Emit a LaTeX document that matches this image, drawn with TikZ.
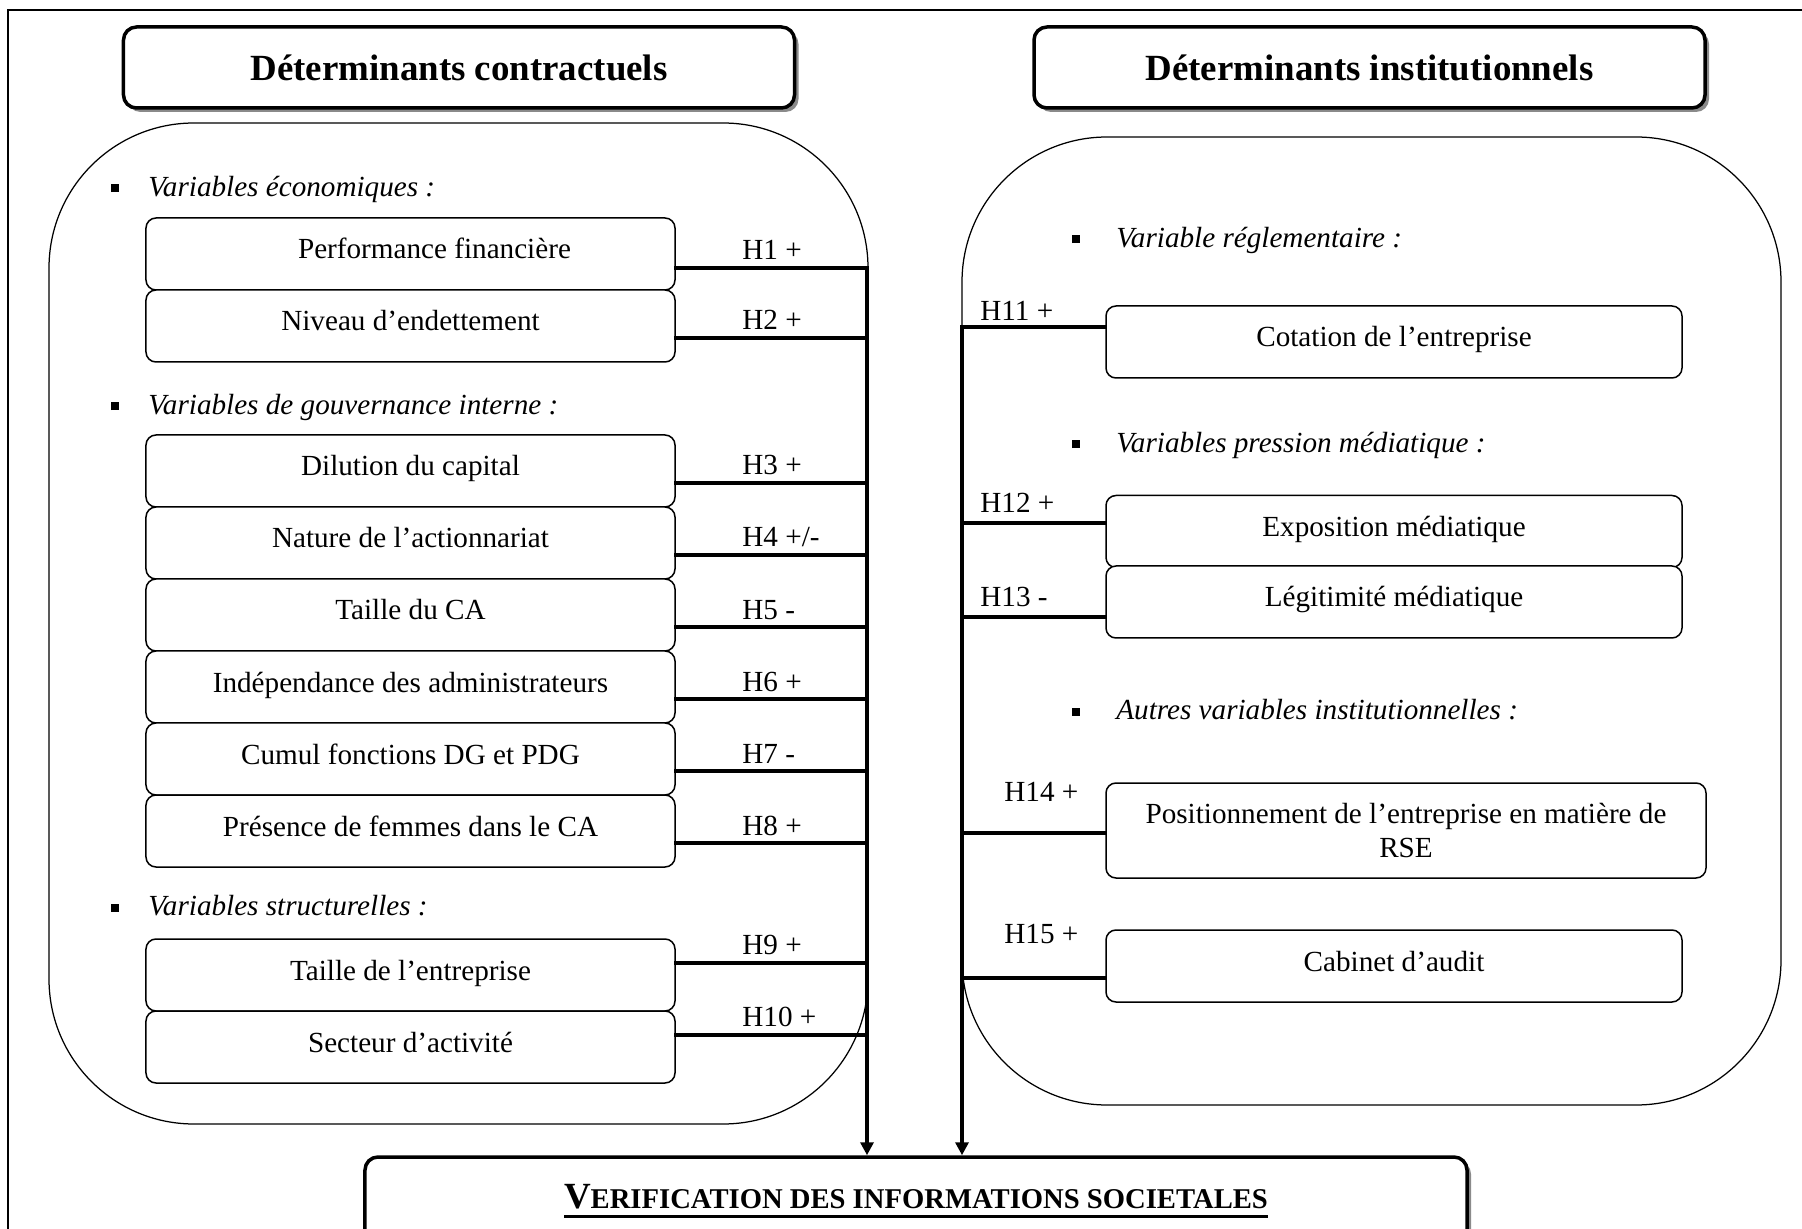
\documentclass[tikz,border=0pt]{standalone}
\usepackage{fontspec}
\setmainfont{Liberation Serif}
\usetikzlibrary{positioning,arrows.meta,shadows}
\definecolor{ombreGris}{HTML}{8A8A8A}
\newcommand{\texte}{\fontsize{16.6}{19.8}\selectfont}
\newcommand{\puce}[1][5.8mm]{\rule[0.8mm]{1.6mm}{1.6mm}\hspace{#1}}
\newcommand{\souligne}[1]{\setbox0\hbox{#1}\rlap{\rule[-1.9mm]{\wd0}{0.6mm}}\box0}
\tikzset{
  entete/.style={rectangle, rounded corners=2.6mm, draw, line width=0.7mm,
    fill=white, minimum width=134.2mm, minimum height=16.2mm,
    font=\fontsize{21}{25}\selectfont\bfseries,
    drop shadow={shadow xshift=0.8mm, shadow yshift=-0.8mm, fill=ombreGris, opacity=1}},
  cadre/.style={draw, line width=0.25mm, rounded corners=29mm},
  boiteVar/.style={rectangle, draw, line width=0.3mm, rounded corners=2mm,
    fill=white, minimum width=105.8mm, minimum height=14.4mm, align=center, font=\texte,
    text height=3.6mm, text depth=1.6mm},
  boiteD/.style={boiteVar, minimum width=115.2mm},
  titreVar/.style={anchor=west, inner sep=0pt, font=\texte\itshape},
  hypo/.style={anchor=west, inner sep=0pt, font=\texte},
  lien/.style={line width=0.8mm, line cap=rect},
  fleche/.style={line width=0.8mm, -{Triangle[length=2.6mm,width=2.6mm]}},
}

\begin{document}
\begin{tikzpicture}[x=0.2mm, y=-0.2mm]
  \useasboundingbox (0,0) rectangle (1802,1229);
  \clip (0,0) rectangle (1802,1229);
  % cadre de la page
  \draw[line width=0.4mm] (1802,10) -- (8,10) -- (8,1229);
  % les deux blocs
  \draw[cadre] (49,123) rectangle (868,1124);
  \draw[cadre] (962,137) rectangle (1781,1105);
  \node[entete] (contr) at (459,67.5) {Déterminants contractuels};
  \node[entete] (instit) at (1369.5,67.5) {Déterminants institutionnels};
  \node[entete, minimum width=220.4mm, minimum height=17.6mm,
    font=\fontsize{16.3}{20}\selectfont\bfseries] (verif) at (916,1201)
    {\souligne{{\fontsize{21}{25}\selectfont V}ERIFICATION DES INFORMATIONS SOCIETALES}};

  % determinants contractuels
  \node[titreVar] (tEco) at (111,189) {\puce Variables économiques :};
  \node[titreVar] (tGouv) at (111,407) {\puce Variables de gouvernance interne :};
  \node[titreVar] (tStruct) at (111,906) {\puce Variables structurelles :};
  \foreach \n/\y/\t in {perf/254/{\hspace*{9.6mm}Performance financière},
      nivd/326/{Niveau d’endettement}, dilu/471/{Dilution du capital},
      natu/543/{Nature de l’actionnariat}, tca/615/{Taille du CA},
      inde/687/{Indépendance des administrateurs}, cumu/759/{Cumul fonctions DG et PDG},
      fem/831/{Présence de femmes dans le CA}, tent/975/{Taille de l’entreprise},
      sect/1047/{Secteur d’activité}}
    \node[boiteVar] (\n) at (410.5,\y) {\t};
  \foreach \n/\y/\yh/\h in {perf/268/250/{H1 +}, nivd/338/320/{H2 +},
      dilu/483/465/{H3 +}, natu/555/537/{H4 +/-}, tca/627/610/{H5 -},
      inde/699/682/{H6 +}, cumu/771/754/{H7 -}, fem/843/826/{H8 +},
      tent/963/945/{H9 +}, sect/1035/1017/{H10 +}}{
    \coordinate (b\n) at (867,\y);
    \draw[lien] (\n.east |- b\n) -- (b\n);
    \node[hypo] (h\n) at (742,\yh) {\h};
  }
  \draw[fleche] (bperf) -- (verif.north -| bperf);

  % determinants institutionnels
  \node[titreVar] (tRegl) at (1072,240) {\puce[7.2mm]Variable réglementaire :};
  \node[titreVar] (tMedia) at (1072,445) {\puce[7.2mm]Variables pression médiatique :};
  \node[titreVar] (tAutres) at (1072,710) {\puce[7.2mm]Autres variables institutionnelles :};
  \foreach \n/\y/\t in {cota/342/{Cotation de l’entreprise},
      expo/531.5/{Exposition médiatique}, legi/602/{Légitimité médiatique},
      cabi/966/{Cabinet d’audit}}
    \node[boiteD] (\n) at (1394,\y) {\t};
  \node[boiteD, minimum width=120mm, minimum height=19mm, text height={}, text depth={}]
    (posi) at (1406,830.5) {Positionnement de l’entreprise en matière de\\RSE};
  \foreach \n/\y/\yh/\xh/\h in {cota/327/311/980/{H11 +}, expo/523/503/980/{H12 +},
      legi/617/597/980/{H13 -}, posi/833/792/1004/{H14 +}, cabi/978/934/1004/{H15 +}}{
    \coordinate (b\n) at (962,\y);
    \draw[lien] (b\n) -- (\n.west |- b\n);
    \node[hypo] (h\n) at (\xh,\yh) {\h};
  }
  \draw[fleche] (bcota) -- (verif.north -| bcota);
\end{tikzpicture}
\end{document}
